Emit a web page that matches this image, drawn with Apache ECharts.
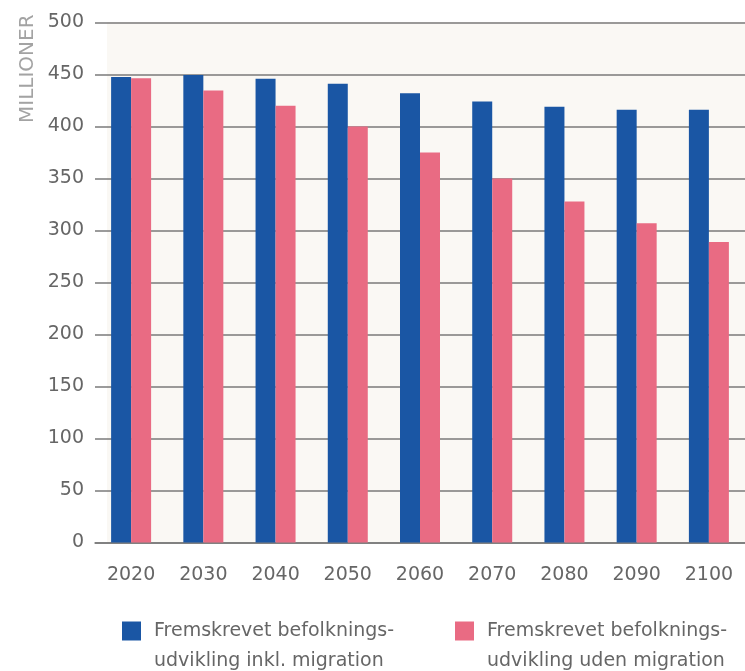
<!DOCTYPE html>
<html>
<head>
<meta charset="utf-8">
<script src="https://cdn.jsdelivr.net/npm/echarts@6/dist/echarts.min.js"></script>
<style>
  html, body { margin: 0; padding: 0; background: #fff; }
  #chart { width: 745px; height: 671px; }
</style>
</head>
<body>
<div id="chart"></div>
<script>
const years = ['2020', '2030', '2040', '2050', '2060', '2070', '2080', '2090', '2100'];
const withMigration = [447.5, 449.5, 446, 441, 432, 424, 419, 416, 416];
const withoutMigration = [446.5, 434.5, 420, 400, 375, 350, 328, 307, 289];
const nameWith = 'Fremskrevet befolknings-\nudvikling inkl. migration';
const nameWithout = 'Fremskrevet befolknings-\nudvikling uden migration';

const font = '"DejaVu Sans", sans-serif';
const legendText = {
  fontFamily: font,
  fontSize: 19,
  color: '#666',
  lineHeight: 30,
  padding: [0, 0, 0, 8]
};
// empty first line keeps the icon level with the first text line
const legendFormatter = name => '\n' + name;

const chart = echarts.init(document.getElementById('chart'));
chart.setOption({
  animation: false,
  graphic: [
    {
      type: 'rect',
      z: -10,
      shape: { x: 107, y: 22, width: 645, height: 520 },
      style: { fill: '#faf8f4' }
    },
    {
      type: 'text',
      x: 28,
      y: 123,
      rotation: Math.PI / 2,
      style: {
        text: 'MILLIONER',
        fontFamily: font,
        fontSize: 20,
        fill: '#a3a3a3',
        align: 'left',
        verticalAlign: 'middle'
      }
    }
  ],
  grid: { left: 95, top: 22.5, width: 654, bottom: 128.5 },
  legend: [
    {
      data: [nameWith],
      left: 122,
      top: 586,
      padding: 0,
      icon: 'rect',
      itemWidth: 19,
      itemHeight: 19,
      formatter: legendFormatter,
      textStyle: legendText
    },
    {
      data: [nameWithout],
      left: 455,
      top: 586,
      padding: 0,
      icon: 'rect',
      itemWidth: 19,
      itemHeight: 19,
      formatter: legendFormatter,
      textStyle: legendText
    }
  ],
  xAxis: {
    type: 'category',
    data: years,
    axisLine: { lineStyle: { color: '#7a7a7a', width: 1.5 } },
    axisTick: { show: false },
    axisLabel: { fontFamily: font, fontSize: 19, color: '#666', margin: 23 }
  },
  yAxis: {
    type: 'value',
    min: 0,
    max: 500,
    interval: 50,
    axisLine: { show: false },
    axisTick: { show: false },
    splitLine: { lineStyle: { color: '#7a7a7a', width: 1.5 } },
    axisLabel: { fontFamily: font, fontSize: 19, color: '#666', margin: 11 }
  },
  series: [
    {
      name: nameWith,
      type: 'bar',
      data: withMigration,
      barWidth: 20,
      barGap: 0,
      itemStyle: { color: '#1a56a4' }
    },
    {
      name: nameWithout,
      type: 'bar',
      data: withoutMigration,
      barWidth: 20,
      itemStyle: { color: '#e96b83' }
    }
  ]
});
</script>
</body>
</html>
